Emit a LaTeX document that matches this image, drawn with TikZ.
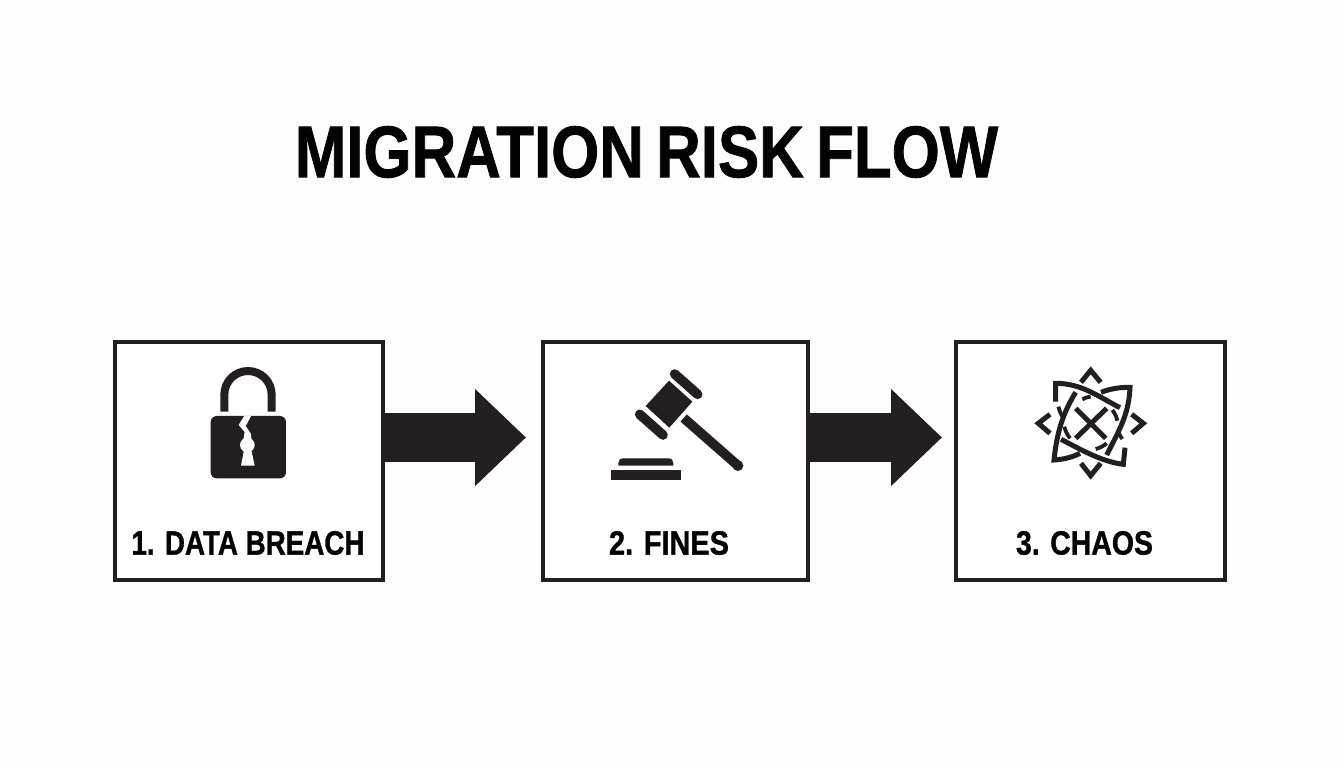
\documentclass[tikz,border=0pt]{standalone}
\usepackage{fontspec}
\setmainfont{Liberation Sans}[BoldFeatures={FakeBold=1.2}]
\usetikzlibrary{arrows.meta}
\definecolor{ink}{HTML}{231F20}
\definecolor{paper}{HTML}{FDFDFD}
\tikzset{
  riskbox/.style={draw=ink,line width=4pt,fill=white,minimum width=268pt,minimum height=238pt,inner sep=0pt},
  flowarrow/.style={draw=ink,line width=49pt,-{Triangle[length=51pt,width=94pt,fill=ink]}},
  caption/.style={inner sep=0pt,text=black!90!ink,font=\bfseries},
  knot/.style={draw=ink,line width=5pt,line cap=butt,line join=miter},
  thinline/.style={draw=ink,line width=3.8pt}
}
\begin{document}
\begin{tikzpicture}[x=1pt,y=-1pt]
\useasboundingbox (0,0) rectangle (1344,768);
\fill[paper] (0,0) rectangle (1344,768);
\node[caption] (title) at (646.5,152) {\resizebox{703pt}{51pt}{MIGRATION\hspace{0.2em}RISK\hspace{0.2em}FLOW}};
\node[riskbox] (box1) at (249,461) {};
\node[riskbox,minimum width=265pt] (box2) at (675.5,461) {};
\node[riskbox,minimum width=269pt] (box3) at (1090.5,461) {};
\draw[flowarrow,shorten >=15pt] ([yshift=23.5pt]box1.east) -- ([yshift=23.5pt]box2.west);
\draw[flowarrow,shorten >=12pt] ([yshift=23.5pt]box2.east) -- ([yshift=23.5pt]box3.west);
\node[caption] (lab1) at (248,543) {\resizebox{233pt}{23.5pt}{1. DATA BREACH}};
\node[caption] (lab2) at (669,543) {\resizebox{120pt}{23.5pt}{2. FINES}};
\node[caption] (lab3) at (1084.5,543) {\resizebox{137pt}{23.5pt}{3. CHAOS}};
% lock
\begin{scope}[shift={(190pt,-350pt)},x=0.3333pt,y=-0.3333pt]
\draw[ink,line width=8pt] (103,185) -- (103,134) arc[start angle=180,end angle=360,radius=71] -- (245,185);
\fill[ink,rounded corners=6pt] (62,198) rectangle (288,385);
\fill[paper] (163,197) -- (146,225) -- (164,246) -- (160,270) -- (185,270) -- (182,250) -- (167,228) -- (184,197) -- cycle;
\fill[paper] (172,285) circle[radius=22];
\fill[paper] (163,295) -- (153,347) -- (194,347) -- (183,295) -- cycle;
\end{scope}
% gavel
\begin{scope}[shift={(600pt,-355pt)},x=0.3333pt,y=-0.3333pt]
\fill[ink] (207,77) -- (277,140) -- (208,218) -- (137,153) -- cycle;
\draw[ink,line width=9.6pt,line cap=round] (224,57) -- (293,118);
\draw[ink,line width=9.6pt,line cap=round] (119,178) -- (189,240);
\draw[ink,line width=9.6pt] (251,189) -- (414,332);
\fill[ink] (414,332) circle[radius=16];
\fill[ink] (55,332) -- (55,325) .. controls (55,316) and (60,310) .. (70,310) -- (205,310) .. controls (215,310) and (220,316) .. (220,325) -- (220,332) -- cycle;
\fill[ink] (32,345) rectangle (242,374);
\end{scope}
% chaos knot
\begin{scope}[shift={(1025pt,-355pt)},x=0.3333pt,y=-0.3333pt]
\draw[knot] (168,82) -- (197,46) -- (227,82);
\draw[knot] (168,325) -- (197,362) -- (227,325);
\draw[knot] (75,178) -- (40,205) -- (75,235);
\draw[knot] (320,178) -- (355,205) -- (320,235);
\draw[knot] (152,160) -- (242,250);
\draw[knot] (245,160) -- (152,250);
\draw[knot] (92,140) -- (92,85) .. controls (170,85) and (220,125) .. (285,158);
\draw[knot] (228,112) .. controls (260,100) and (285,97) .. (315,97) .. controls (312,180) and (280,230) .. (245,300);
\draw[knot] (152,112) .. controls (110,180) and (95,240) .. (87,315) .. controls (120,313) and (145,305) .. (165,295);
\draw[knot] (108,253) .. controls (170,285) and (230,320) .. (295,328) -- (300,278);
\draw[thinline] (172,133) .. controls (180,128) and (188,126) .. (197,125);
\draw[thinline] (100,155) .. controls (104,168) and (107,176) .. (112,185);
\draw[thinline] (118,215) .. controls (121,228) and (127,240) .. (135,250);
\draw[thinline] (212,282) .. controls (225,279) and (235,273) .. (245,265);
\draw[thinline] (278,225) .. controls (282,235) and (285,245) .. (292,252);
\draw[thinline] (262,165) .. controls (270,175) and (274,185) .. (277,197);
\end{scope}
\end{tikzpicture}
\end{document}
